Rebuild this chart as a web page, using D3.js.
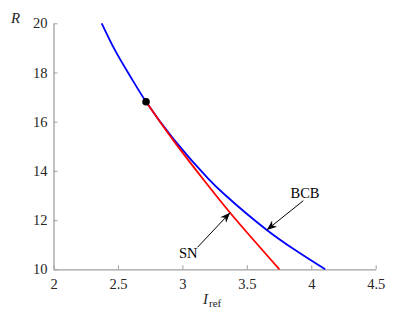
<!DOCTYPE html>
<html>
<head>
<meta charset="utf-8">
<script src="https://cdn.jsdelivr.net/npm/d3@7"></script>
<style>body{margin:0;background:#fff;}</style>
</head>
<body>
<svg id="c" width="415" height="312"></svg>
<script>
const FONT = '"Liberation Serif"';
const xTicks = [2, 2.5, 3, 3.5, 4, 4.5];
const xTickLabels = ["2", "2.5", "3", "3.5", "4", "4.5"];
const yTicks = [10, 12, 14, 16, 18, 20];
const yTickLabels = ["10", "12", "14", "16", "18", "20"];

// BCB curve (blue)
const bcbI = [2.374, 2.477, 2.594, 2.718, 2.93, 3.202, 3.332, 3.655, 3.875, 4.108];
const bcbR = [20.0, 18.91, 17.86, 16.81, 15.30, 13.68, 13.02, 11.60, 10.78, 10.0];
// SN curve (red)
const snI = [2.718, 2.93, 3.163, 3.37, 3.753];
const snR = [16.81, 15.24, 13.65, 12.30, 10.0];
// codimension-two point
const ptI = [2.718];
const ptR = [16.81];

const svg = d3.select("#c");
const x = d3.scaleLinear().domain([2, 4.5]).range([53.5, 375.7]);
const y = d3.scaleLinear().domain([10, 20]).range([269.3, 23.3]);
const axisCol = "#a0a0a0";
const textCol = "#262626";

const gx = svg.append("g").attr("transform", `translate(0,${y(10)})`)
  .call(d3.axisBottom(x).tickValues(xTicks).tickFormat((d,i)=>xTickLabels[i]).tickSizeInner(-4).tickSizeOuter(0).tickPadding(9));
const gy = svg.append("g").attr("transform", `translate(${x(2)},0)`)
  .call(d3.axisLeft(y).tickValues(yTicks).tickFormat((d,i)=>yTickLabels[i]).tickSizeInner(-4).tickSizeOuter(0).tickPadding(6));
[gx, gy].forEach(g => {
  g.attr("font-family", null).attr("font-size", null);
  g.select(".domain").attr("stroke", axisCol).attr("stroke-width", 1.3);
  g.selectAll(".tick line").attr("stroke", axisCol).attr("stroke-width", 1);
  g.selectAll(".tick text").attr("fill", textCol).style("font-family", FONT).style("font-size", "14.5px");
});

const line = d3.line().x(d => x(d[0])).y(d => y(d[1])).curve(d3.curveCatmullRom.alpha(0.5));
svg.append("path").datum(bcbI.map((v,i)=>[v, bcbR[i]]))
  .attr("d", line).attr("fill", "none").attr("stroke", "#0000ff").attr("stroke-width", 1.8);
svg.append("path").datum(snI.map((v,i)=>[v, snR[i]]))
  .attr("d", line).attr("fill", "none").attr("stroke", "#ff0000").attr("stroke-width", 1.8);
svg.selectAll("circle.pt").data(ptI).enter().append("circle")
  .attr("cx", d => x(d)).attr("cy", (d,i) => y(ptR[i])).attr("r", 3.8).attr("fill", "#000");

function arrow(x0, y0, x1, y1) {
  svg.append("line").attr("x1", x0).attr("y1", y0).attr("x2", x1).attr("y2", y1)
    .attr("stroke", "#000").attr("stroke-width", 1);
  const a = Math.atan2(y1 - y0, x1 - x0);
  const L = 10, W = 4, N = 7;
  const p = (l, w) => [x1 - l*Math.cos(a) - w*Math.sin(a), y1 - l*Math.sin(a) + w*Math.cos(a)];
  const pts = [[x1, y1], p(L, W), p(N, 0), p(L, -W)];
  svg.append("path").attr("d", "M" + pts.map(q => q.join(",")).join("L") + "Z").attr("fill", "#000");
}
arrow(197.5, 247.3, x(3.37), y(12.30));
arrow(303.3, 200.7, x(3.655), y(11.60));

function txt(xp, yp, s, size) {
  const t = svg.append("text").attr("x", xp).attr("y", yp).style("font-family", FONT).style("font-size", size + "px");
  if (s) t.text(s);
  return t;
}
txt(179, 257.5, "SN", 14.5).attr("fill", "#000");
txt(290.5, 197.5, "BCB", 14.5).attr("fill", "#000");
txt(11, 22.7, "R", 15).style("font-style", "italic").attr("fill", textCol);
const xl = txt(203, 303.5, null, 15).attr("fill", textCol);
xl.append("tspan").style("font-style", "italic").text("I");
xl.append("tspan").style("font-size", "11px").attr("dy", 3).attr("dx", 1).text("ref");
</script>
</body>
</html>
